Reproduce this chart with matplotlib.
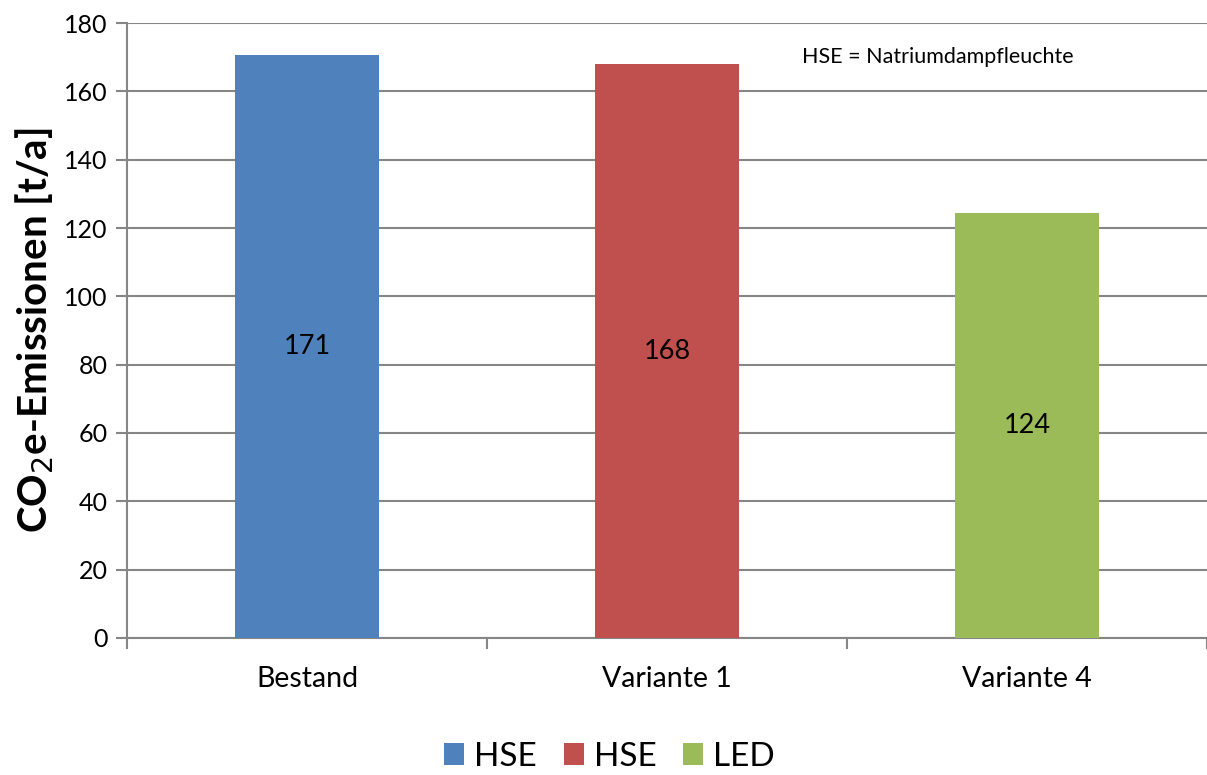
import matplotlib
matplotlib.use('Agg')
import matplotlib.pyplot as plt
from matplotlib.patches import Patch

# Data
categories = ['Bestand', 'Variante 1', 'Variante 4']
values = [170.6, 167.9, 124.4]
value_labels = ['171', '168', '124']
legend_labels = ['HSE', 'HSE', 'LED']
colors = ['#4F81BD', '#C0504D', '#9BBB59']

plt.rcParams['font.family'] = ['Lato', 'DejaVu Sans']

fig = plt.figure(figsize=(12.07, 7.75), dpi=100)
ax = fig.add_axes([0.1052, 0.1768, 0.8948, 0.7935])

x_pos = list(range(len(categories)))
bars = ax.bar(x_pos, values, width=0.4, color=colors, zorder=3)

# value labels in the middle of each bar
for xp, v, lab in zip(x_pos, values, value_labels):
    ax.text(xp, v / 2, lab, ha='center', va='center', fontsize=19.5, zorder=4)

ax.set_xlim(-0.5, 2.5)
ax.set_ylim(0, 180)
ax.set_yticks(range(0, 181, 20))
ax.yaxis.grid(True, color='#868686', linewidth=1.5, zorder=0)

# category ticks between the groups
ax.set_xticks([-0.5, 0.5, 1.5, 2.5])
ax.set_xticklabels([])
ax.set_xticks(x_pos, minor=True)
ax.set_xticklabels(categories, minor=True, fontsize=20.5)
ax.tick_params(axis='x', which='minor', length=0, pad=20)
ax.tick_params(axis='x', which='major', length=8, width=1.5, color='#868686', direction='out')
ax.tick_params(axis='y', length=8, width=1.5, color='#868686', labelsize=18, pad=6)

for side in ['top', 'right']:
    ax.spines[side].set_visible(False)
for side in ['left', 'bottom']:
    ax.spines[side].set_color('#868686')
    ax.spines[side].set_linewidth(1.5)

ax.set_ylabel('CO$_2$e-Emissionen [t/a]', fontsize=29, fontweight='bold', labelpad=6)

ax.text(0.625, 0.945, 'HSE = Natriumdampfleuchte', transform=ax.transAxes,
        fontsize=15.5, va='center', ha='left')

handles = [Patch(facecolor=c, label=l) for c, l in zip(colors, legend_labels)]
fig.legend(handles=handles, loc='lower center', bbox_to_anchor=(0.505, 0.0), ncol=3,
           frameon=False, fontsize=24, handlelength=0.6, handleheight=0.6,
           handletextpad=0.3, columnspacing=0.8, borderpad=0.0, borderaxespad=0.1)

fig.savefig('out.png', dpi=100)
